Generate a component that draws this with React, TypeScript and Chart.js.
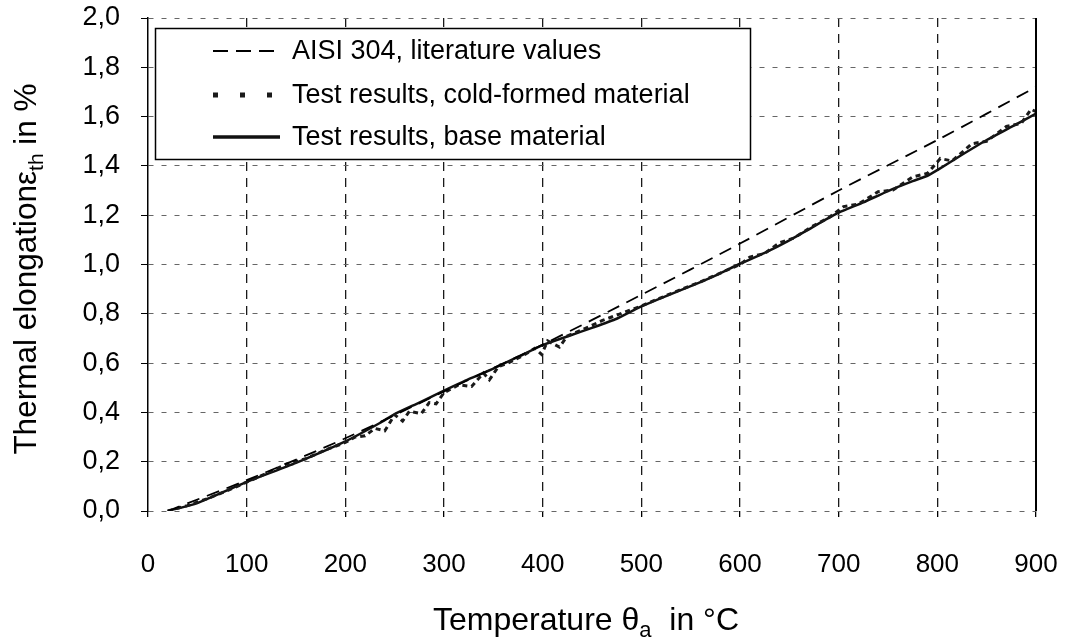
import React, { useEffect, useRef } from "react";
import { Chart, registerables } from "chart.js";

Chart.register(...registerables);

// ---------- data ----------
const litTemps = [20, 100, 200, 300, 400, 500, 600, 700, 800, 900];
const litValues = [0.0, 0.125, 0.295, 0.485, 0.675, 0.877, 1.085, 1.3, 1.505, 1.72];

const baseTemps = [20, 50, 100, 150, 200, 235, 250, 275, 300, 325, 350, 375, 400, 425, 450, 475, 490, 500, 525, 550, 575, 600, 625, 650, 675, 700, 725, 750, 775, 790, 800, 825, 850, 875, 900];
const baseValues = [0.0, 0.032, 0.118, 0.195, 0.282, 0.357, 0.393, 0.44, 0.488, 0.535, 0.578, 0.625, 0.673, 0.708, 0.743, 0.78, 0.81, 0.83, 0.872, 0.912, 0.955, 1.003, 1.047, 1.098, 1.155, 1.21, 1.252, 1.298, 1.338, 1.36, 1.383, 1.445, 1.505, 1.558, 1.612];

const coldTemps = [20, 40, 60, 80, 100, 120, 140, 160, 180, 200, 210, 220, 230, 240, 250, 258, 265, 277, 285, 292, 300, 315, 328, 340, 346, 355, 365, 380, 392, 399, 405, 417, 425, 440, 460, 480, 500, 530, 560, 600, 610, 625, 640, 655, 672, 690, 705, 720, 740, 755, 775, 790, 803, 815, 835, 850, 870, 885, 895, 900];
const coldValues = [0.0, 0.022, 0.05, 0.082, 0.117, 0.152, 0.19, 0.212, 0.248, 0.278, 0.3, 0.305, 0.335, 0.325, 0.39, 0.365, 0.405, 0.395, 0.44, 0.435, 0.48, 0.512, 0.505, 0.56, 0.532, 0.585, 0.6, 0.63, 0.66, 0.635, 0.69, 0.665, 0.71, 0.735, 0.772, 0.802, 0.832, 0.882, 0.93, 1.0, 1.03, 1.045, 1.088, 1.108, 1.152, 1.19, 1.235, 1.245, 1.295, 1.302, 1.355, 1.37, 1.43, 1.42, 1.49, 1.5, 1.56, 1.572, 1.63, 1.62];

const xTickValues = [0, 100, 200, 300, 400, 500, 600, 700, 800, 900];
const yTickValues = [0, 0.2, 0.4, 0.6, 0.8, 1.0, 1.2, 1.4, 1.6, 1.8, 2.0];

const legendLabels = [
  "AISI 304, literature values",
  "Test results, cold-formed material",
  "Test results, base material",
];

const xTitleParts = { main: "Temperature \u03b8", sub: "a", rest: "  in \u00b0C" };
const yTitleParts = { main: "Thermal elongation\u03b5", sub: "th", rest: " in %" };

const FONT = "'Liberation Sans', Arial, Helvetica, sans-serif";

const toXY = (xs: number[], ys: number[]) => xs.map((x, i) => ({ x, y: ys[i] }));

const decorPlugin = {
  id: "decor",
  afterDatasetsDraw(chart: any) {
    const { ctx, chartArea, scales } = chart;
    ctx.save();
    ctx.strokeStyle = "#000";
    ctx.lineWidth = 2;
    const xr = scales.x.getPixelForValue(900);
    ctx.beginPath();
    ctx.moveTo(xr, chartArea.top);
    ctx.lineTo(xr, chartArea.bottom);
    ctx.stroke();
    ctx.restore();
  },
  afterDraw(chart: any) {
    const { ctx } = chart;
    const ds = chart.data.datasets;

    // ---- legend box ----
    const L = 155, T = 28, R = 750, B = 159;
    ctx.save();
    ctx.fillStyle = "#fff";
    ctx.fillRect(L, T, R - L, B - T);
    ctx.strokeStyle = "#000";
    ctx.lineWidth = 1.5;
    ctx.strokeRect(L + 0.5, T + 0.5, R - L, B - T);
    const rows = [51, 95, 137];
    const samples = [
      { dash: [15, 8], width: 1.8, x2: 277 },
      { dash: [5, 22], width: 5, x2: 272 },
      { dash: [], width: 3.5, x2: 280 },
    ];
    for (let i = 0; i < 3; i++) {
      ctx.beginPath();
      ctx.setLineDash(samples[i].dash);
      ctx.lineWidth = samples[i].width;
      ctx.strokeStyle = ds[i].borderColor;
      ctx.moveTo(213, rows[i]);
      ctx.lineTo(samples[i].x2, rows[i]);
      ctx.stroke();
      ctx.setLineDash([]);
      ctx.fillStyle = "#000";
      ctx.font = `27px ${FONT}`;
      ctx.textBaseline = "middle";
      ctx.textAlign = "left";
      ctx.fillText(legendLabels[i], 292, rows[i] + 1);
    }
    ctx.restore();

    // ---- axis titles with subscripts ----
    const drawTitle = (parts: any, size: number) => {
      const subSize = Math.round(size * 0.68);
      ctx.font = `${size}px ${FONT}`;
      const w1 = ctx.measureText(parts.main).width;
      ctx.font = `${subSize}px ${FONT}`;
      const w2 = ctx.measureText(parts.sub).width;
      ctx.font = `${size}px ${FONT}`;
      const w3 = ctx.measureText(parts.rest).width;
      const total = w1 + w2 + w3;
      let x = -total / 2;
      ctx.textAlign = "left";
      ctx.textBaseline = "alphabetic";
      ctx.fillStyle = "#000";
      ctx.fillText(parts.main, x, 0);
      x += w1;
      ctx.font = `${subSize}px ${FONT}`;
      ctx.fillText(parts.sub, x, size * 0.22);
      x += w2;
      ctx.font = `${size}px ${FONT}`;
      ctx.fillText(parts.rest, x, 0);
    };

    ctx.save();
    ctx.translate(586, 630);
    drawTitle(xTitleParts, 32);
    ctx.restore();

    ctx.save();
    ctx.translate(36, 269);
    ctx.rotate(-Math.PI / 2);
    drawTitle(yTitleParts, 31.5);
    ctx.restore();
  },
};

export default function App() {
  const canvasRef = useRef<HTMLCanvasElement | null>(null);

  useEffect(() => {
    const canvas = canvasRef.current;
    if (!canvas) return;
    const chart = new Chart(canvas, {
      type: "line",
      data: {
        datasets: [
          {
            label: legendLabels[0],
            data: toXY(litTemps, litValues),
            borderColor: "#000",
            borderWidth: 1.8,
            borderDash: [13, 8],
            pointRadius: 0,
            tension: 0.3,
            fill: false,
          },
          {
            label: legendLabels[1],
            data: toXY(coldTemps, coldValues),
            borderColor: "#1a1a1a",
            borderWidth: 3,
            borderDash: [5, 4],
            pointRadius: 0,
            tension: 0,
            fill: false,
          },
          {
            label: legendLabels[2],
            data: toXY(baseTemps, baseValues),
            borderColor: "#111",
            borderWidth: 2.5,
            pointRadius: 0,
            tension: 0.2,
            fill: false,
          },
        ],
      },
      options: {
        animation: false,
        responsive: false,
        devicePixelRatio: 1,
        layout: { padding: { top: 18, right: 31, left: 0, bottom: 0 } },
        plugins: {
          legend: { display: false },
          tooltip: { enabled: false },
          title: { display: false },
        },
        scales: {
          x: {
            type: "linear",
            min: 0,
            max: 900,
            afterFit: (s: any) => {
              s.height = 126;
              s.paddingLeft = 0;
              s.paddingRight = 0;
            },
            afterBuildTicks: (s: any) => {
              s.ticks = xTickValues.map((v) => ({ value: v }));
            },
            ticks: {
              color: "#000",
              font: { family: FONT, size: 26 },
              padding: 32,
              maxRotation: 0,
              callback: (v: any) => String(v),
            },
            grid: {
              color: (c: any) => (c.tick && (c.tick.value === 0 || c.tick.value === 900) ? "rgba(0,0,0,0)" : "#1a1a1a"),
              lineWidth: 1.3,
              drawTicks: true,
              tickLength: 6,
              tickColor: "#000",
            },
            border: { display: false, dash: [9, 7] },
          },
          y: {
            type: "linear",
            min: 0,
            max: 2,
            afterFit: (s: any) => {
              s.width = 148;
              s.paddingTop = 0;
              s.paddingBottom = 0;
            },
            afterBuildTicks: (s: any) => {
              s.ticks = yTickValues.map((v) => ({ value: v }));
            },
            ticks: {
              color: "#000",
              font: { family: FONT, size: 27 },
              padding: 21,
              callback: (v: any) => Number(v).toFixed(1).replace(".", ","),
            },
            grid: {
              color: "#666",
              lineWidth: 1,
              drawTicks: true,
              tickLength: 7,
              tickColor: "#000",
            },
            border: { display: true, color: "#000", width: 1.5, dash: [5, 8] },
          },
        },
      },
      plugins: [decorPlugin],
    });
    return () => chart.destroy();
  }, []);

  return (
    <div style={{ position: "fixed", left: 0, top: 0, width: 1067, height: 637, background: "#fff" }}>
      <canvas ref={canvasRef} width={1067} height={637} style={{ display: "block" }} />
    </div>
  );
}
